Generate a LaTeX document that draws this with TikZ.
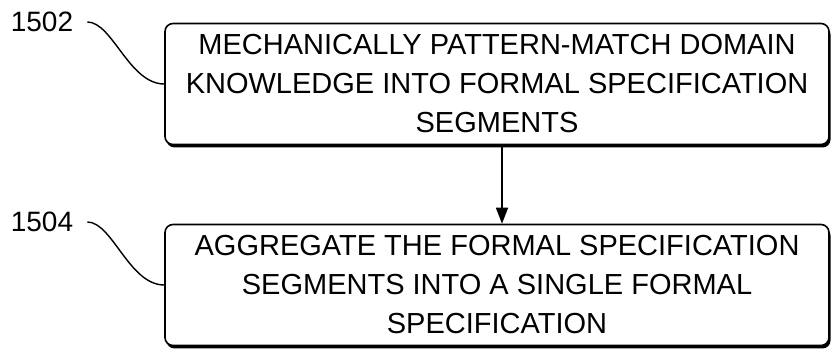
\documentclass[tikz,border=0pt]{standalone}
\usepackage{fontspec}
\setmainfont{Liberation Sans}
\usetikzlibrary{arrows.meta,shadows}

\begin{document}
\begin{tikzpicture}[x=1pt, y=1pt,
  stepbox/.style={draw, line width=1.6pt, rounded corners=8pt, fill=white,
    minimum width=664pt, minimum height=121pt, align=center, inner sep=0pt,
    font=\fontsize{29}{39}\selectfont,
    drop shadow={shadow xshift=1.5pt, shadow yshift=-3pt, fill=black, opacity=1}},
  reflabel/.style={font=\fontsize{28}{34}\selectfont, inner sep=0pt},
  leader/.style={line width=1.4pt},
  flow/.style={line width=1.6pt, -{Triangle[length=16pt, width=12pt]}}]
\useasboundingbox (0,0) rectangle (832,350);
\node[stepbox] (s1502) at (497,266) {MECHANICALLY PATTERN-MATCH DOMAIN\\KNOWLEDGE INTO FORMAL SPECIFICATION\\SEGMENTS};
\node[stepbox] (s1504) at (497,65) {AGGREGATE THE FORMAL SPECIFICATION\\SEGMENTS INTO A SINGLE FORMAL\\SPECIFICATION};
\node[reflabel] (r1502) at (42,328) {1502};
\node[reflabel] (r1504) at (42,128) {1504};
\draw[leader] (r1502.east) ++(14pt,0) .. controls +(25,0) and +(-35,0) .. (s1502.west);
\draw[leader] (r1504.east) ++(14pt,0) .. controls +(25,0) and +(-35,0) .. (s1504.west);
\draw[flow] (s1502.south -| 502,0) -- (s1504.north -| 502,0);
\end{tikzpicture}
\end{document}
